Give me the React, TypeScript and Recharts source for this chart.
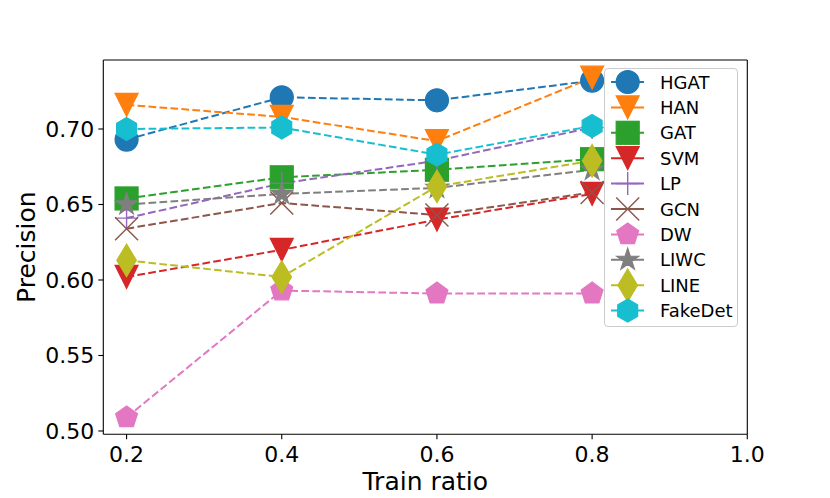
import React from 'react';
import { LineChart, Line, XAxis, YAxis, ReferenceLine, Label } from 'recharts';

const ratios = [0.2, 0.4, 0.6, 0.8];
const HGAT = [0.693, 0.721, 0.719, 0.732];
const HAN = [0.716, 0.708, 0.692, 0.734];
const GAT = [0.654, 0.668, 0.673, 0.680];
const SVM = [0.602, 0.620, 0.640, 0.657];
const LP = [0.641, 0.664, 0.679, 0.701];
const GCN = [0.634, 0.651, 0.643, 0.658];
const DW = [0.509, 0.593, 0.591, 0.591];
const LIWC = [0.650, 0.657, 0.661, 0.673];
const LINE = [0.613, 0.602, 0.662, 0.679];
const FakeDet = [0.700, 0.701, 0.683, 0.702];

const xTicks = [0.2, 0.4, 0.6, 0.8, 1.0];
const yTicks = [0.5, 0.55, 0.6, 0.65, 0.7];
const X_DOMAIN: [number, number] = [0.17, 1.0];
const Y_DOMAIN: [number, number] = [0.4978, 0.7457];

type MarkerType = 'o' | 'v' | 's' | '+' | 'x' | 'p' | '*' | 'd' | 'h';

const series: { name: string; values: number[]; color: string; marker: MarkerType }[] = [
  { name: 'HGAT', values: HGAT, color: '#1f77b4', marker: 'o' },
  { name: 'HAN', values: HAN, color: '#ff7f0e', marker: 'v' },
  { name: 'GAT', values: GAT, color: '#2ca02c', marker: 's' },
  { name: 'SVM', values: SVM, color: '#d62728', marker: 'v' },
  { name: 'LP', values: LP, color: '#9467bd', marker: '+' },
  { name: 'GCN', values: GCN, color: '#8c564b', marker: 'x' },
  { name: 'DW', values: DW, color: '#e377c2', marker: 'p' },
  { name: 'LIWC', values: LIWC, color: '#7f7f7f', marker: '*' },
  { name: 'LINE', values: LINE, color: '#bcbd22', marker: 'd' },
  { name: 'FakeDet', values: FakeDet, color: '#17becf', marker: 'h' },
];

const data = ratios.map((r, i) => {
  const row: Record<string, number> = { ratio: r };
  series.forEach((s) => {
    row[s.name] = s.values[i];
  });
  return row;
});

const FONT = 'DejaVu Sans, sans-serif';
const S = 23;

function polyPoints(cx: number, cy: number, n: number, r: number, rInner?: number) {
  const pts: string[] = [];
  const count = rInner !== undefined ? n * 2 : n;
  for (let k = 0; k < count; k++) {
    const ang = (-90 + (360 / count) * k) * (Math.PI / 180);
    const rr = rInner !== undefined && k % 2 === 1 ? rInner : r;
    pts.push(`${cx + rr * Math.cos(ang)},${cy + rr * Math.sin(ang)}`);
  }
  return pts.join(' ');
}

function Marker({ type, color, cx, cy }: { type: MarkerType; color: string; cx: number; cy: number }) {
  const h = S / 2;
  const common = { fill: color, stroke: color, strokeWidth: 1.2 };
  switch (type) {
    case 'o':
      return <circle cx={cx} cy={cy} r={h} {...common} />;
    case 'v':
      return <polygon points={`${cx - h},${cy - h} ${cx + h},${cy - h} ${cx},${cy + h}`} {...common} />;
    case 's':
      return <rect x={cx - h} y={cy - h} width={S} height={S} {...common} />;
    case '+':
      return (
        <g stroke={color} strokeWidth={1.4}>
          <line x1={cx - h} y1={cy} x2={cx + h} y2={cy} />
          <line x1={cx} y1={cy - h} x2={cx} y2={cy + h} />
        </g>
      );
    case 'x':
      return (
        <g stroke={color} strokeWidth={1.4}>
          <line x1={cx - h} y1={cy - h} x2={cx + h} y2={cy + h} />
          <line x1={cx - h} y1={cy + h} x2={cx + h} y2={cy - h} />
        </g>
      );
    case 'p':
      return <polygon points={polyPoints(cx, cy, 5, h)} {...common} />;
    case 'h':
      return <polygon points={polyPoints(cx, cy, 6, h)} {...common} />;
    case '*':
      return <polygon points={polyPoints(cx, cy, 5, h, h * 0.381966)} {...common} />;
    case 'd': {
      const dh = (S * Math.SQRT2) / 2;
      const dw = dh * 0.6;
      return (
        <polygon
          points={`${cx},${cy - dh} ${cx + dw},${cy} ${cx},${cy + dh} ${cx - dw},${cy}`}
          {...common}
        />
      );
    }
    default:
      return null;
  }
}

const legendX = 604.5;
const legendY = 68.5;
const legendRow0 = 82;
const legendStep = 25.4;

function LegendOverlay() {
  return (
    <svg
      width={830}
      height={498}
      style={{ position: 'absolute', left: 0, top: 0, pointerEvents: 'none' }}
    >
      <rect
        x={legendX}
        y={legendY}
        width={133}
        height={258}
        rx={3.5}
        fill="#ffffff"
        fillOpacity={0.8}
        stroke="#cccccc"
        strokeWidth={1}
      />
      {series.map((s, i) => {
        const y = legendRow0 + legendStep * i;
        return (
          <g key={s.name}>
            <line x1={611} y1={y} x2={644} y2={y} stroke={s.color} strokeWidth={2} />
            <Marker type={s.marker} color={s.color} cx={627.7} cy={y} />
            <text x={660} y={y + 6.5} fontSize={18} fontFamily={FONT} fill="#000">
              {s.name}
            </text>
          </g>
        );
      })}
    </svg>
  );
}

export default function App() {
  return (
    <div style={{ position: 'absolute', left: 0, top: 0, width: 830, height: 498, background: '#fff' }}>
      <LineChart
        width={830}
        height={498}
        data={data}
        margin={{ top: 60, right: 82.7, bottom: 0, left: 0 }}
      >
        <XAxis
          dataKey="ratio"
          type="number"
          domain={X_DOMAIN}
          ticks={xTicks}
          allowDataOverflow
          tickFormatter={(v: number) => v.toFixed(1)}
          height={63.7}
          tickSize={5}
          tickMargin={7}
          axisLine={{ stroke: '#000', strokeWidth: 1.1 }}
          tickLine={{ stroke: '#000', strokeWidth: 1.1 }}
          tick={{ fill: '#000', fontSize: 22, fontFamily: FONT }}
        >
          <Label
            content={(props: any) => {
              const vb = props.viewBox || {};
              return (
                <text
                  x={vb.x + vb.width / 2}
                  y={490}
                  textAnchor="middle"
                  fontSize={25}
                  fontFamily={FONT}
                  fill="#000"
                >
                  Train ratio
                </text>
              );
            }}
          />
        </XAxis>
        <YAxis
          type="number"
          domain={Y_DOMAIN}
          ticks={yTicks}
          allowDataOverflow
          tickFormatter={(v: number) => v.toFixed(2)}
          width={103.3}
          tickSize={5}
          tickMargin={4}
          axisLine={{ stroke: '#000', strokeWidth: 1.1 }}
          tickLine={{ stroke: '#000', strokeWidth: 1.1 }}
          tick={{ fill: '#000', fontSize: 22, fontFamily: FONT }}
        >
          <Label
            content={(props: any) => {
              const vb = props.viewBox || {};
              const cy = vb.y + vb.height / 2;
              return (
                <text
                  x={35}
                  y={cy}
                  transform={`rotate(-90, 35, ${cy})`}
                  textAnchor="middle"
                  fontSize={25}
                  fontFamily={FONT}
                  fill="#000"
                >
                  Precision
                </text>
              );
            }}
          />
        </YAxis>
        <ReferenceLine y={Y_DOMAIN[1]} stroke="#000" strokeWidth={1.1} ifOverflow="extendDomain" />
        <ReferenceLine x={X_DOMAIN[1]} stroke="#000" strokeWidth={1.1} ifOverflow="extendDomain" />
        {series.map((s) => (
          <Line
            key={s.name}
            dataKey={s.name}
            stroke={s.color}
            strokeWidth={2}
            strokeDasharray="7.7 3.3"
            isAnimationActive={false}
            dot={(p: any) => (
              <g key={`${s.name}-${p.index}`}>
                <Marker type={s.marker} color={s.color} cx={p.cx} cy={p.cy} />
              </g>
            )}
            activeDot={false}
          />
        ))}
      </LineChart>
      <LegendOverlay />
    </div>
  );
}
